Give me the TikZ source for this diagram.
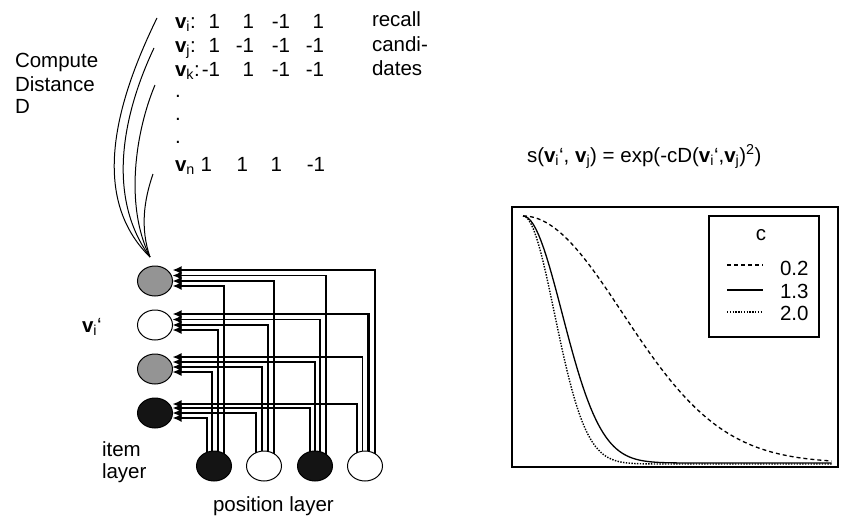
\documentclass[tikz,border=0pt]{standalone}
\usepackage{fontspec}
\setmainfont{Liberation Sans}
\usetikzlibrary{arrows.meta,backgrounds,shapes.geometric}
\newcommand{\vecv}[1]{\textbf{v}\textsubscript{#1}}
\begin{document}
\begin{tikzpicture}[x=1pt,y=-1pt,
  every node/.style={inner sep=0pt,outer sep=0pt,font=\fontsize{20.5}{23}\selectfont},
  unit/.style={ellipse,draw,line width=1pt,minimum width=35pt,minimum height=30pt},
  gr/.style={unit,fill=black!42},
  wh/.style={unit,fill=white},
  bl/.style={unit,fill=black!92},
  conn/.style={line width=#1,-{Latex[length=9pt,width=8pt]}},
  txt/.style={anchor=base west},
  num/.style={anchor=base east},
  curve/.style={line width=1pt},
  plotline/.style={line width=1.3pt},
  dotline/.style={line width=1.4pt,dash pattern=on 1.4pt off 1.4pt},
  dashline/.style={line width=1.3pt,dash pattern=on 4pt off 3pt}
]
\useasboundingbox (0,0) rectangle (848,522);

% ---------- left texts ----------
\node[txt] (cmp1) at (15,67) {Compute};
\node[txt] (cmp2) at (15,91) {Distance};
\node[txt] (cmp3) at (15,113) {D};

\node[txt] (l1) at (175,28) {\vecv{i}:};
\node[num] (r1c1) at (220,28) {1};
\node[num] (r1c2) at (254,28) {1};
\node[num] (r1c3) at (290,28) {-1};
\node[num] (r1c4) at (324,28) {1};
\node[txt] (l2) at (175,52) {\vecv{j}:};
\node[num] (r2c1) at (220,52) {1};
\node[num] (r2c2) at (254,52) {-1};
\node[num] (r2c3) at (290,52) {-1};
\node[num] (r2c4) at (324,52) {-1};
\node[txt] (l3) at (175,76) {\vecv{k}:};
\node[num] (r3c1) at (220,76) {-1};
\node[num] (r3c2) at (254,76) {1};
\node[num] (r3c3) at (290,76) {-1};
\node[num] (r3c4) at (324,76) {-1};
\node[txt] (d1) at (175,97) {.};
\node[txt] (d2) at (175,120) {.};
\node[txt] (d3) at (175,143) {.};
\node[txt] (ln) at (175,171) {\vecv{n}};
\node[num] (rnc1) at (212,171) {1};
\node[num] (rnc2) at (248,171) {1};
\node[num] (rnc3) at (282,171) {1};
\node[num] (rnc4) at (325,171) {-1};

\node[txt] (rc1) at (372,27) {recall};
\node[txt] (rc2) at (372,51) {candi-};
\node[txt] (rc3) at (372,75) {dates};

% ---------- compute-distance curves ----------
\coordinate (cd) at (150,257);
\coordinate (t1) at (157,18);
\coordinate (t2) at (154,48);
\coordinate (t3) at (155,85);
\coordinate (t4) at (153,174);
\draw[curve] (t1) .. controls (112,110) and (92,200) .. (cd);
\draw[curve] (t2) .. controls (120,120) and (108,200) .. (cd);
\draw[curve] (t3) .. controls (136,130) and (124,205) .. (cd);
\draw[curve] (t4) .. controls (144,200) and (140,228) .. (cd);

% ---------- network ----------
\node[gr] (i1) at (155,281) {};
\node[wh] (i2) at (155,325) {};
\node[gr] (i3) at (155,369) {};
\node[bl] (i4) at (155,413) {};

\node[bl] (p1) at (214,466) {};
\node[wh] (p2) at (264,466) {};
\node[bl] (p3) at (315,466) {};
\node[wh] (p4) at (365,466) {};

\begin{pgfonlayer}{background}
\foreach \p/\i/\dx/\dy/\w in {
  1/1/10/-5/2.2pt, 2/1/10/0/1.5pt, 3/1/11/5.5/1.5pt, 4/1/10/11/2.2pt,
  1/2/4/-5/1.5pt, 2/2/4/0/2.2pt, 3/2/5/5.5/1.5pt, 4/2/3.5/11/2.2pt,
  1/3/-2/-3/1.5pt, 2/3/-2/2/1.2pt, 3/3/0/7/1.5pt, 4/3/-2.5/12/1.5pt,
  1/4/-7/-5/2.2pt, 2/4/-8/0/1.5pt, 3/4/-5/5/2.2pt, 4/4/-8/9/1.5pt}
  \draw[conn=\w] ([xshift=\dx pt]p\p.center) |- ([yshift=\dy pt]i\i.east);
\end{pgfonlayer}

\node[txt] (vi) at (82,332) {\vecv{i}‘};
\node[txt] (il1) at (102,456) {item};
\node[txt] (il2) at (102,478) {layer};
\node[txt] (pl) at (213,511) {position layer};

% ---------- formula and plot ----------
\node[txt] (form) at (527,162) {s(\vecv{i}‘, \vecv{j}) = exp(-cD(\vecv{i}‘,\vecv{j})\textsuperscript{2})};

\draw[line width=1.3pt] (512,207) rectangle (838,467);
\draw[dashline] plot[domain=0:4.9,samples=120] ({523+63*\x},{463-247*exp(-0.2*\x*\x)});
\draw[plotline] plot[domain=0:4.9,samples=120] ({523+63*\x},{463-247*exp(-1.3*\x*\x)});
\draw[dotline] plot[domain=0:4.9,samples=120] ({523+63*\x},{464-248*exp(-2.0*\x*\x)});

\draw[line width=1.3pt] (709,216) rectangle (819,337);
\node[anchor=base] (lc) at (761,240) {c};
\coordinate (la1) at (727,265); \coordinate (lb1) at (763,265);
\coordinate (la2) at (727,290); \coordinate (lb2) at (763,290);
\coordinate (la3) at (727,312); \coordinate (lb3) at (763,312);
\draw[dashline] (la1) -- (lb1);
\draw[plotline] (la2) -- (lb2);
\draw[dotline] (la3) -- (lb3);
\node[txt] (v1) at (780,275) {0.2};
\node[txt] (v2) at (780,298) {1.3};
\node[txt] (v3) at (780,320) {2.0};
\end{tikzpicture}
\end{document}
